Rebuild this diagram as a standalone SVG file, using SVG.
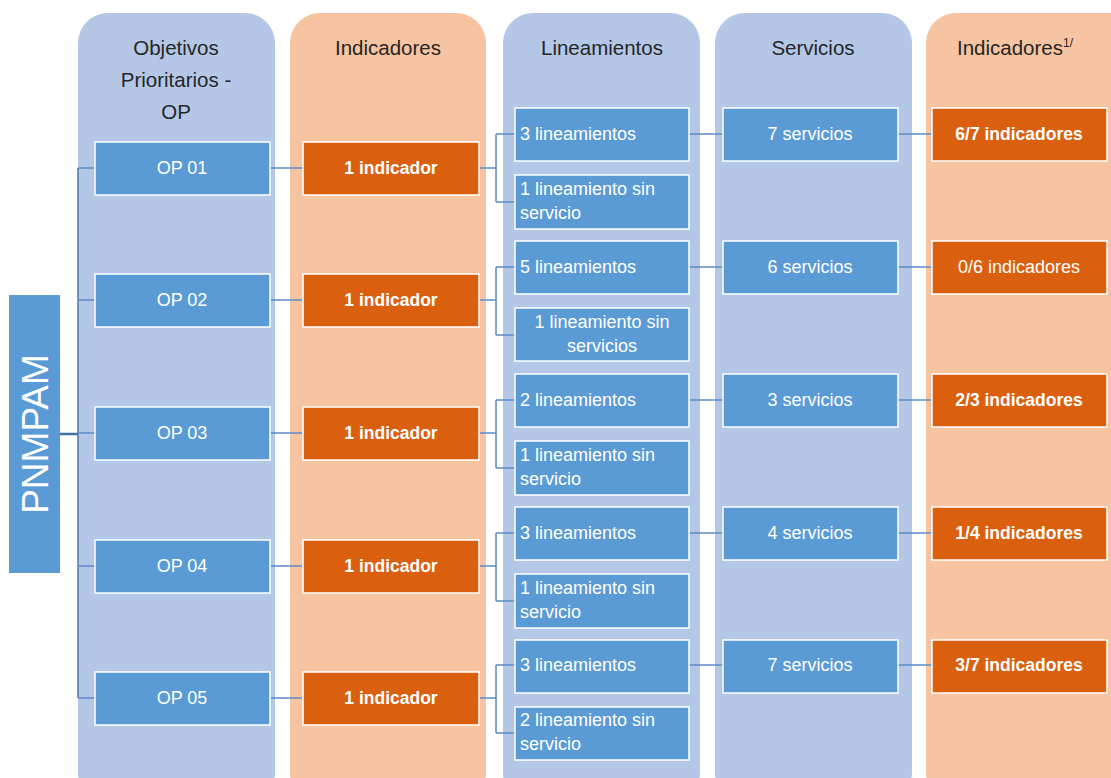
<svg xmlns="http://www.w3.org/2000/svg" width="1111" height="778" viewBox="0 0 1111 778">
<style>
.colb{fill:#B4C7E7}
.colo{fill:#F6C4A0}
.bb{fill:#5B9BD5;stroke:#FFFFFF;stroke-width:1.5}
.bo{fill:#DA6010;stroke:#FFFFFF;stroke-width:1.5}
.h{font-family:"Liberation Sans",Arial,sans-serif;font-size:20.5px;fill:#262626;text-anchor:middle}
.t{font-family:"Liberation Sans",Arial,sans-serif;font-size:18px;fill:#FFFFFF}
.c{text-anchor:middle}
.b{font-weight:bold;font-size:17.5px}
.ln{fill:none;stroke:#5B8CC6;stroke-width:1.5}
</style>
<rect width="1111" height="778" fill="#FFFFFF"/>
<g id="columns">
<rect class="colb" x="78" y="13" width="197" height="790" rx="30"/>
<rect class="colo" x="290" y="13" width="196" height="790" rx="30"/>
<rect class="colb" x="503" y="13" width="197" height="790" rx="30"/>
<rect class="colb" x="715" y="13" width="197" height="790" rx="30"/>
<rect class="colo" x="926" y="13" width="215" height="790" rx="30"/>
<text class="h" x="176" y="55">Objetivos</text>
<text class="h" x="176" y="87">Prioritarios -</text>
<text class="h" x="176" y="119">OP</text>
<text class="h" x="388" y="55">Indicadores</text>
<text class="h" x="602" y="55">Lineamientos</text>
<text class="h" x="813" y="55">Servicios</text>
<text class="h" x="1015" y="55">Indicadores<tspan font-size="12" dy="-8">1/</tspan></text>
</g>
<g id="connectors">
<path class="ln" d="M60 434H78" style="stroke:#41719C;stroke-width:2.5"/>
<path class="ln" d="M78 168V698" style="stroke:#4A7AB0"/>
<path class="ln" d="M78 168H95M78 300H95M78 433H95M78 566H95M78 698H95"/>
<path class="ln" d="M270 168H303M270 300H303M270 433H303M270 566H303M270 698H303"/>
<path class="ln" d="M479 168H496M496 134V202M496 134H515M496 202H515"/>
<path class="ln" d="M479 300H496M496 267V335M496 267H515M496 335H515"/>
<path class="ln" d="M479 433H496M496 400V468M496 400H515M496 468H515"/>
<path class="ln" d="M479 566H496M496 533V601M496 533H515M496 601H515"/>
<path class="ln" d="M479 698H496M496 665V733M496 665H515M496 733H515"/>
<path class="ln" d="M689 134H723M689 267H723M689 400H723M689 533H723M689 665H723"/>
<path class="ln" d="M898 134H932M898 267H932M898 400H932M898 533H932M898 665H932"/>
</g>
<g id="pnmpam">
<rect x="9" y="295" width="51" height="278" fill="#5B9BD5"/>
<text transform="translate(48 434) rotate(-90)" text-anchor="middle" font-family="Liberation Sans,Arial,sans-serif" font-size="37" fill="#FFFFFF">PNMPAM</text>
</g>
<g id="op01"><rect class="bb" x="95" y="142" width="175" height="53"/><text class="t c" x="182" y="174">OP 01</text></g>
<g id="op02"><rect class="bb" x="95" y="274" width="175" height="53"/><text class="t c" x="182" y="306">OP 02</text></g>
<g id="op03"><rect class="bb" x="95" y="407" width="175" height="53"/><text class="t c" x="182" y="439">OP 03</text></g>
<g id="op04"><rect class="bb" x="95" y="540" width="175" height="53"/><text class="t c" x="182" y="572">OP 04</text></g>
<g id="op05"><rect class="bb" x="95" y="672" width="175" height="53"/><text class="t c" x="182" y="704">OP 05</text></g>
<g id="ind01"><rect class="bo" x="303" y="142" width="176" height="53"/><text class="t c b" x="391" y="174">1 indicador</text></g>
<g id="ind02"><rect class="bo" x="303" y="274" width="176" height="53"/><text class="t c b" x="391" y="306">1 indicador</text></g>
<g id="ind03"><rect class="bo" x="303" y="407" width="176" height="53"/><text class="t c b" x="391" y="439">1 indicador</text></g>
<g id="ind04"><rect class="bo" x="303" y="540" width="176" height="53"/><text class="t c b" x="391" y="572">1 indicador</text></g>
<g id="ind05"><rect class="bo" x="303" y="672" width="176" height="53"/><text class="t c b" x="391" y="704">1 indicador</text></g>
<g id="lin01a"><rect class="bb" x="515" y="108" width="174" height="53"/><text class="t" x="520" y="140">3 lineamientos</text></g>
<g id="lin01b"><rect class="bb" x="515" y="175" width="174" height="54"/><text class="t" x="520" y="195">1 lineamiento sin</text><text class="t" x="520" y="219">servicio</text></g>
<g id="lin02a"><rect class="bb" x="515" y="241" width="174" height="53"/><text class="t" x="520" y="273">5 lineamientos</text></g>
<g id="lin02b"><rect class="bb" x="515" y="308" width="174" height="53"/><text class="t c" x="602" y="328">1 lineamiento sin</text><text class="t c" x="602" y="352">servicios</text></g>
<g id="lin03a"><rect class="bb" x="515" y="374" width="174" height="53"/><text class="t" x="520" y="406">2 lineamientos</text></g>
<g id="lin03b"><rect class="bb" x="515" y="441" width="174" height="54"/><text class="t" x="520" y="461">1 lineamiento sin</text><text class="t" x="520" y="485">servicio</text></g>
<g id="lin04a"><rect class="bb" x="515" y="507" width="174" height="53"/><text class="t" x="520" y="539">3 lineamientos</text></g>
<g id="lin04b"><rect class="bb" x="515" y="574" width="174" height="54"/><text class="t" x="520" y="594">1 lineamiento sin</text><text class="t" x="520" y="618">servicio</text></g>
<g id="lin05a"><rect class="bb" x="515" y="640" width="174" height="53"/><text class="t" x="520" y="671">3 lineamientos</text></g>
<g id="lin05b"><rect class="bb" x="515" y="707" width="174" height="53"/><text class="t" x="520" y="726">2 lineamiento sin</text><text class="t" x="520" y="750">servicio</text></g>
<g id="srv01"><rect class="bb" x="723" y="108" width="175" height="53"/><text class="t c" x="810" y="140">7 servicios</text></g>
<g id="srv02"><rect class="bb" x="723" y="241" width="175" height="53"/><text class="t c" x="810" y="273">6 servicios</text></g>
<g id="srv03"><rect class="bb" x="723" y="374" width="175" height="53"/><text class="t c" x="810" y="406">3 servicios</text></g>
<g id="srv04"><rect class="bb" x="723" y="507" width="175" height="53"/><text class="t c" x="810" y="539">4 servicios</text></g>
<g id="srv05"><rect class="bb" x="723" y="640" width="175" height="53"/><text class="t c" x="810" y="671">7 servicios</text></g>
<g id="ind2_01"><rect class="bo" x="932" y="108" width="175" height="53"/><text class="t c b" x="1019" y="140">6/7 indicadores</text></g>
<g id="ind2_02"><rect class="bo" x="932" y="241" width="175" height="53"/><text class="t c" x="1019" y="273">0/6 indicadores</text></g>
<g id="ind2_03"><rect class="bo" x="932" y="374" width="175" height="53"/><text class="t c b" x="1019" y="406">2/3 indicadores</text></g>
<g id="ind2_04"><rect class="bo" x="932" y="507" width="175" height="53"/><text class="t c b" x="1019" y="539">1/4 indicadores</text></g>
<g id="ind2_05"><rect class="bo" x="932" y="640" width="175" height="53"/><text class="t c b" x="1019" y="671">3/7 indicadores</text></g>
</svg>
